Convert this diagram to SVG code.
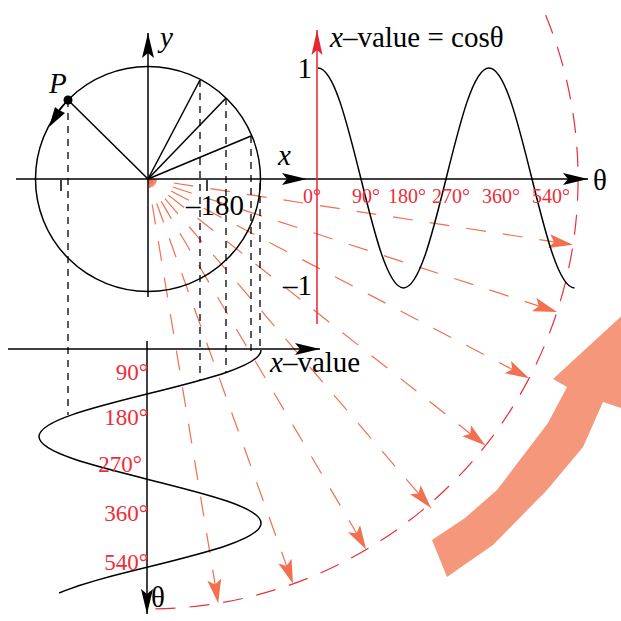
<svg xmlns="http://www.w3.org/2000/svg" width="621" height="621" viewBox="0 0 621 621">
<defs>
<style>
.ax{stroke:#000;stroke-width:1.5;fill:none}
.cv{stroke:#000;stroke-width:1.5;fill:none}
.dv{stroke:#000;stroke-width:1.3;stroke-dasharray:7 6;fill:none}
.fan{stroke:#F07050;stroke-width:1.2;stroke-dasharray:20 17;stroke-dashoffset:11;fill:none}
.arc{stroke:#E8303A;stroke-width:1.2;stroke-dasharray:20 14;fill:none}
.t{font-family:"Liberation Serif","Times New Roman",serif;font-size:29px;fill:#000}
.it{font-style:italic}
.rl{font-family:"Liberation Serif","Times New Roman",serif;fill:#EE2D3A}
</style>
<marker id="ah" viewBox="-26 -8 28 16" refX="0" refY="0" markerWidth="28" markerHeight="16" markerUnits="userSpaceOnUse" orient="auto"><path d="M0,0 L-25,-6 L-20,0 L-25,6 Z" fill="#000"/></marker>
<marker id="ahr" viewBox="-26 -8 28 16" refX="0" refY="0" markerWidth="28" markerHeight="16" markerUnits="userSpaceOnUse" orient="auto"><path d="M0,0 L-25,-5.5 L-20,0 L-25,5.5 Z" fill="#E8252E"/></marker>
<marker id="ahf" viewBox="-26 -8 28 16" refX="0" refY="0" markerWidth="28" markerHeight="16" markerUnits="userSpaceOnUse" orient="auto"><path d="M0,0 L-24,-7 L-19,0 L-24,7 Z" fill="#F07050"/></marker>
</defs>
<rect width="621" height="621" fill="#fff"/>

<g id="big-arrow">
<polygon points="432,540 465,518 497,490 548,423 567,387 553,379 665,276 645,416 603,402 583,447 547,490 493,545 467,563 447,577" fill="#F5977A"/>
</g>

<g id="connectors">
<path class="arc" d="M545.6,15.1 A430,430 0 0 1 144,609"/>
<line class="fan" x1="148" y1="179" x2="572.9" y2="244.8" marker-end="url(#ahf)"/>
<line class="fan" x1="148" y1="179" x2="557" y2="311.9" marker-end="url(#ahf)"/>
<line class="fan" x1="148" y1="179" x2="529.1" y2="378.2" marker-end="url(#ahf)"/>
<line class="fan" x1="148" y1="179" x2="485.4" y2="445.6" marker-end="url(#ahf)"/>
<line class="fan" x1="148" y1="179" x2="431" y2="508" marker-end="url(#ahf)"/>
<line class="fan" x1="148" y1="179" x2="366.2" y2="549.5" marker-end="url(#ahf)"/>
<line class="fan" x1="148" y1="179" x2="293" y2="583.8" marker-end="url(#ahf)"/>
<line class="fan" x1="148" y1="179" x2="218.2" y2="603.2" marker-end="url(#ahf)"/>
</g>

<g id="unit-circle">
<circle cx="148" cy="179" r="112.5" class="cv"/>
<line class="ax" x1="16" y1="179" x2="307" y2="179" marker-end="url(#ah)"/>
<line class="ax" x1="148" y1="297" x2="148" y2="33" marker-end="url(#ah)"/>
<line class="cv" x1="148" y1="179" x2="68" y2="100"/>
<line class="cv" x1="148" y1="179" x2="200" y2="80"/>
<line class="cv" x1="148" y1="179" x2="226" y2="98"/>
<line class="cv" x1="148" y1="179" x2="251" y2="136"/>
<line class="ax" x1="61" y1="180" x2="61" y2="191"/>
<line class="ax" x1="207" y1="180" x2="207" y2="191"/>
<circle cx="68" cy="100" r="4.5" fill="#000"/>
<path class="cv" d="M68,100 A112.5,112.5 0 0 0 59,111"/>
<polygon points="49,127 65,113 59,110 55,107" fill="#000"/>
<text class="t it" x="49" y="93">P</text>
<text class="t it" x="160" y="47">y</text>
<text class="t it" x="278" y="165">x</text>
<text class="t" x="186" y="215">–180</text>
</g>

<g id="projections">
<line class="dv" x1="68" y1="100" x2="68" y2="415"/>
<line class="dv" x1="200" y1="80" x2="200" y2="380"/>
<line class="dv" x1="226" y1="98" x2="226" y2="372"/>
<line class="dv" x1="251" y1="136" x2="251" y2="355"/>
<line class="dv" x1="260" y1="183" x2="260" y2="349"/>
</g>

<g id="cos-graph">
<line class="ax" x1="307" y1="179" x2="588" y2="179" marker-end="url(#ah)"/>
<line x1="317" y1="324" x2="317" y2="30" stroke="#E8252E" stroke-width="1.5" marker-end="url(#ahr)"/>
<path class="cv" d="M318,68 C333.47,68 346.81,121.65 360.75,178 C374.69,234.35 388.03,288 403.5,288 C418.97,288 432.31,234.35 446.25,178 C460.19,121.65 473.53,68 489,68 C504.47,68 517.81,121.65 531.75,178 C545.69,234.35 559.03,288 574.5,288"/>
<text class="t" x="330" y="47"><tspan font-style="italic">x</tspan>–value = cosθ</text>
<text class="t" x="312" y="78" text-anchor="end">1</text>
<text class="t" x="312" y="295" text-anchor="end">–1</text>
<text class="t" x="593" y="190">θ</text>
<g class="rl" font-size="20">
<text x="303" y="203">0°</text>
<text x="352" y="203">90°</text>
<text x="388" y="203">180°</text>
<text x="432" y="203">270°</text>
<text x="482" y="203">360°</text>
<text x="532" y="203">540°</text>
</g>
</g>

<g id="x-value-graph">
<line class="ax" x1="8" y1="349" x2="320" y2="349" marker-end="url(#ah)"/>
<line class="ax" x1="147" y1="341" x2="147" y2="614" marker-end="url(#ah)"/>
<path class="cv" d="M261,350 C261,365.67 206.87,379.18 150,393.3 C93.13,407.42 39,420.93 39,436.6 C39,452.27 93.13,465.78 150,479.9 C206.87,494.02 261,507.53 261,523.2 C261,538.87 206.87,552.38 150,566.5 L130.7,571.3 L112,576.1 L94.5,580.9 L78.6,585.7 L65,590.6 L59.1,593"/>
<text class="t" x="270" y="372"><tspan font-style="italic">x</tspan>–value</text>
<text class="t" x="151" y="607">θ</text>
<g class="rl" font-size="23" text-anchor="end">
<text x="148" y="380">90°</text>
<text x="148" y="425">180°</text>
<text x="142" y="472">270°</text>
<text x="148" y="521">360°</text>
<text x="148" y="570">540°</text>
</g>
</g>
</svg>
